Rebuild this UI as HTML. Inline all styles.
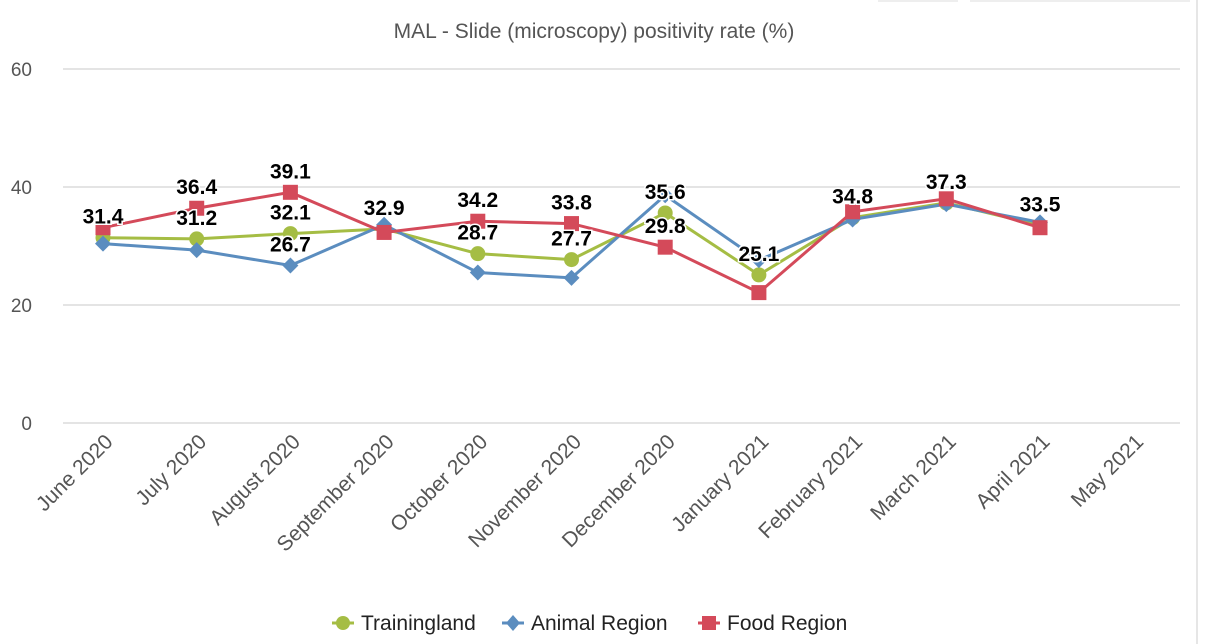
<!DOCTYPE html>
<html><head><meta charset="utf-8"><style>
body{margin:0;background:#fff;width:1208px;height:644px;overflow:hidden;font-family:"Liberation Sans",Arial,sans-serif}
svg{display:block}
</style></head><body>
<svg id="chart" width="1208" height="644" xmlns="http://www.w3.org/2000/svg">
<rect x="1196" y="0" width="2" height="644" fill="#e6e6e6"/>
<rect x="878" y="0" width="80" height="2" fill="#eee"/>
<rect x="970" y="0" width="220" height="2" fill="#eee"/>
<text x="594" y="38" text-anchor="middle" font-size="21" fill="#555">MAL - Slide (microscopy) positivity rate (%)</text>
<g id="grid"></g><g id="xlabels"></g><g id="series"></g><g id="labels"></g>
<g>
<g><line x1="332" y1="623" x2="354" y2="623" stroke="#a5bd44" stroke-width="3"/><circle cx="343" cy="623" r="7" fill="#a5bd44"/><text x="361" y="630" font-size="21" fill="#222">Trainingland</text></g>
<g><line x1="502" y1="623" x2="524" y2="623" stroke="#5b8dbf" stroke-width="3"/><path d="M513 615 L520 623 L513 631 L506 623 Z" fill="#5b8dbf"/><text x="531" y="630" font-size="21" fill="#222">Animal Region</text></g>
<g><line x1="698" y1="623" x2="720" y2="623" stroke="#d44a5a" stroke-width="3"/><rect x="702" y="616" width="14" height="14" fill="#d44a5a"/><text x="727" y="630" font-size="21" fill="#222">Food Region</text></g>
</g>
</svg>
<script>
const categories=["June 2020","July 2020","August 2020","September 2020","October 2020","November 2020","December 2020","January 2021","February 2021","March 2021","April 2021","May 2021"];
const trainingland=[31.4,31.2,32.1,32.9,28.7,27.7,35.6,25.1,34.8,37.3,33.5,null];
const animalRegion=[30.4,29.3,26.7,33.6,25.5,24.6,38.6,27.6,34.5,37.1,34.0,null];
const foodRegion=[33.1,36.4,39.1,32.3,34.2,33.8,29.8,22.1,35.8,38.0,33.1,null];
const trainingLabels=[true,true,true,true,true,true,true,true,true,true,true,false];
const animalLabels=[false,false,true,false,false,false,false,false,false,false,false,false];
const foodLabels=[false,true,true,false,true,true,true,false,false,false,false,false];
const yTicks=[0,20,40,60];
const NS="http://www.w3.org/2000/svg";
const y=v=>423-v*(354/60);
const x=i=>103+i*93.7;
function mk(t,a,p){const e=document.createElementNS(NS,t);for(const k in a)e.setAttribute(k,a[k]);p.appendChild(e);return e;}
const grid=document.getElementById('grid');
yTicks.forEach(t=>{
 const l=mk('line',{x1:63,x2:1180,y1:y(t),y2:y(t),stroke:'#dcdcdc','stroke-width':1.5},grid);
 
 
 const tx=mk('text',{x:32,y:y(t)+7,'text-anchor':'end','font-size':19,fill:'#555'},grid);
 tx.textContent=t;
 
 
});
const xl=document.getElementById('xlabels');
categories.forEach((c,i)=>{
 const t=mk('text',{x:0,y:0,'text-anchor':'end','font-size':21,fill:'#555',transform:`translate(${x(i)+11},${443}) rotate(-45)`},xl);
 t.textContent=c;
 
 
});
const sg=document.getElementById('series'),lg=document.getElementById('labels');
function draw(data,color,shape,name,show){
 const g=mk('g',{},sg);
 
 
 let d='';data.forEach((v,i)=>{if(v!=null)d+=(d?'L':'M')+x(i)+' '+y(v);});
 const p=mk('path',{d:d,fill:'none',stroke:color,'stroke-width':3},g);
 
 
 data.forEach((v,i)=>{if(v==null)return;const cx=x(i),cy=y(v);let m;
  if(shape==='c')m=mk('circle',{cx:cx,cy:cy,r:7.5,fill:color},g);
  else if(shape==='d')m=mk('path',{d:`M${cx} ${cy-8}L${cx+8} ${cy}L${cx} ${cy+8}L${cx-8} ${cy}Z`,fill:color},g);
  else m=mk('rect',{x:cx-7.5,y:cy-7.5,width:15,height:15,fill:color},g);
  
  
  if(show[i]){const t=mk('text',{x:cx,y:cy-14,'text-anchor':'middle','font-size':21,'font-weight':'bold',fill:'#000',stroke:'#fff','stroke-width':3,'paint-order':'stroke'},lg);
   t.textContent=v.toFixed(1);
   
   }
 });
}
draw(trainingland,'#a5bd44','c','trainingland',trainingLabels);
draw(animalRegion,'#5b8dbf','d','animal-region',animalLabels);
draw(foodRegion,'#d44a5a','s','food-region',foodLabels);
</script>
</body></html>
